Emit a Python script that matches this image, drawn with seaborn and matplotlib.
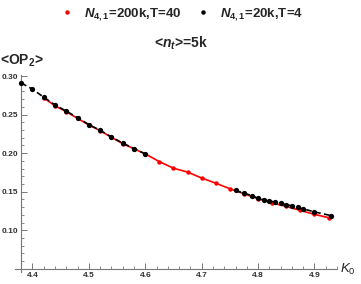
import matplotlib
matplotlib.use("Agg")
import matplotlib.pyplot as plt
import seaborn as sns
import numpy as np
from matplotlib.lines import Line2D
from matplotlib.ticker import MultipleLocator

# N41=200k, T=40 (red)
k_red = [4.42, 4.44, 4.46, 4.48, 4.50, 4.52, 4.54, 4.56, 4.58, 4.60,
         4.625, 4.65, 4.675, 4.70, 4.725, 4.75, 4.775, 4.80, 4.825, 4.85,
         4.875, 4.90, 4.925]
op_red = [0.2715, 0.2615, 0.2537, 0.2451, 0.2366, 0.2292, 0.2205, 0.2124, 0.2056, 0.1991,
          0.1890, 0.1805, 0.1755, 0.1678, 0.1611, 0.1539, 0.1474, 0.1410, 0.1353, 0.1310,
          0.1258, 0.1207, 0.1164]

# N41=20k, T=4 (black), two separate runs
k_black_lo = [4.38, 4.40, 4.42, 4.44, 4.46, 4.48, 4.50, 4.52, 4.54, 4.56, 4.58, 4.60]
op_black_lo = [0.291, 0.283, 0.2725, 0.2625, 0.2545, 0.246, 0.237, 0.2296, 0.221, 0.213, 0.206, 0.199]
k_black_hi = [4.76, 4.775, 4.79, 4.80, 4.81, 4.82, 4.83, 4.84, 4.85, 4.86, 4.87, 4.88, 4.90, 4.93]
op_black_hi = [0.1517, 0.1482, 0.1448, 0.1413, 0.1397, 0.1381, 0.1366, 0.1349, 0.1332, 0.1317,
               0.1297, 0.1278, 0.1239, 0.1190]

legend_labels = ["$N_{4,1}$=200k,T=40", "$N_{4,1}$=20k,T=4"]

sns.set_style("white")
plt.rcParams['font.family'] = ['Liberation Sans', 'DejaVu Sans']
plt.rcParams['mathtext.fontset'] = 'custom'
plt.rcParams['mathtext.it'] = 'Liberation Sans:italic:bold'
plt.rcParams['mathtext.rm'] = 'Liberation Sans:bold'
plt.rcParams['mathtext.bf'] = 'Liberation Sans:bold'
plt.rcParams['mathtext.cal'] = 'Liberation Sans:italic'
plt.rcParams['mathtext.sf'] = 'Liberation Sans'

fig = plt.figure(figsize=(3.61, 2.84), dpi=100)
ax = fig.add_axes([0.0416, 0.0423, 0.892, 0.694])

sns.lineplot(x=k_red, y=op_red, ax=ax, color='red', lw=1.2, marker='o',
             markersize=3.2, markeredgewidth=0, zorder=2)
for kk, oo in [(k_black_lo, op_black_lo), (k_black_hi, op_black_hi)]:
    sns.lineplot(x=kk, y=oo, ax=ax, color='black', lw=1.2, marker='o',
                 markersize=3.8, markeredgewidth=0, dashes=(3.5, 2), zorder=3)

ax.set_xlim(4.369, 4.94)
ax.set_ylim(0.046, 0.3015)

ax.spines['right'].set_visible(False)
ax.spines['top'].set_visible(False)
ax.spines['left'].set_position(('data', 4.38))
ax.spines['bottom'].set_position(('data', 0.05))
for s in ['left', 'bottom']:
    ax.spines[s].set_color('#777777')
    ax.spines[s].set_linewidth(0.8)

ax.xaxis.set_minor_locator(MultipleLocator(0.02))
ax.yaxis.set_minor_locator(MultipleLocator(0.01))
ax.set_xticks([4.4, 4.5, 4.6, 4.7, 4.8, 4.9])
ax.set_yticks([0.10, 0.15, 0.20, 0.25, 0.30])
ax.set_yticklabels(["0.10", "0.15", "0.20", "0.25", "0.30"])
ax.tick_params(which='major', direction='in', length=4, width=0.7, color='#777777',
               labelsize=6, labelcolor='#333333', pad=2)
ax.tick_params(which='minor', direction='in', length=2.2, width=0.6, color='#777777')
ax.tick_params(axis='y', which='both', left=True)
ax.tick_params(axis='x', which='both', bottom=True)
for lab in ax.get_xticklabels() + ax.get_yticklabels():
    lab.set_fontweight('bold')

ax.set_xlabel("")
ax.set_ylabel("")

fig.text(0.963, 0.052, r"$\mathcal{K}_\mathsf{0}$", fontsize=9.5, ha='center', va='center')
fig.text(0.0, 0.785, "<OP$_2$>", fontsize=10, fontweight='bold', ha='left', va='center')
fig.text(0.5, 0.848, "<$n_t$>=5k", fontsize=10, fontweight='bold', ha='center', va='center')

handles = [Line2D([], [], ls='none', marker='o', color='red', markersize=3.2, markeredgewidth=0),
           Line2D([], [], ls='none', marker='o', color='black', markersize=3.2, markeredgewidth=0)]
leg = fig.legend(handles, legend_labels, loc='center', bbox_to_anchor=(0.505, 0.95), ncol=2,
                 frameon=False, handlelength=0.8, handletextpad=0.9,
                 columnspacing=1.2, prop={'weight': 'bold', 'size': 9.5})

fig.savefig("out.png", dpi=100)
